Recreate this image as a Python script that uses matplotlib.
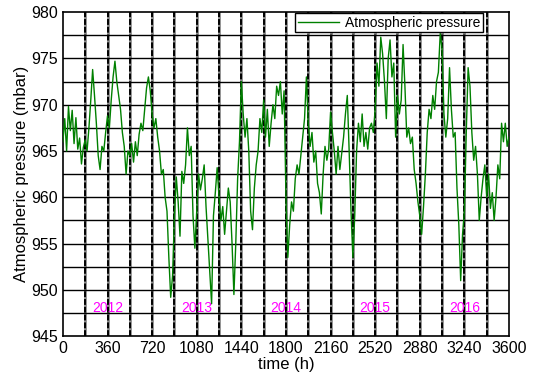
import numpy as np
import matplotlib.pyplot as plt
from matplotlib.ticker import MultipleLocator

plt.rcParams['font.family'] = ['Liberation Sans', 'DejaVu Sans']

# === Данные (шаг 15 ч) ===
time_h = np.arange(0, 3601, 15)
pressure = [
    966.0, 968.5, 965.0, 969.8, 967.2, 969.4, 965.8, 968.6, 965.2, 966.4, 963.6, 965.4,
    966.2, 965.0, 967.5, 970.5, 973.8, 971.0, 968.0, 964.5, 963.0, 965.5, 965.0, 967.0,
    968.8, 967.5, 970.5, 973.0, 974.7, 972.5, 971.0, 969.5, 967.0, 965.5, 962.5, 965.0,
    964.5, 965.8, 963.8, 966.0, 964.5, 966.8, 968.0, 967.2, 969.5, 971.8, 973.0, 971.5,
    969.0, 967.5, 968.5, 966.5, 965.0, 962.5, 963.0, 960.0, 958.5, 953.5, 949.2, 951.5,
    958.0, 962.2, 959.5, 955.8, 962.8, 961.5, 963.5, 967.5, 964.5, 965.5, 958.0, 954.5,
    958.5, 962.5, 960.8, 962.0, 963.5, 959.0, 955.5, 952.0, 948.5, 958.0, 960.5, 963.2,
    960.0, 957.5, 959.0, 956.0, 958.5, 961.0, 959.5, 955.0, 949.5, 955.0, 962.0, 966.0,
    972.5, 969.0, 966.5, 968.5, 965.0, 958.5, 956.5, 961.0, 963.5, 965.0, 968.5, 967.0,
    970.5, 966.5, 969.5, 965.5, 968.0, 970.0, 968.5, 972.0, 971.0, 972.5, 969.0, 971.5,
    960.0, 953.5, 957.0, 959.5, 958.5, 962.0, 963.5, 962.5, 964.5, 966.5, 968.5, 973.0,
    968.0, 965.5, 967.0, 963.8, 965.0, 961.5, 960.5, 958.2, 962.5, 965.5, 964.0, 965.2,
    969.2, 967.0, 965.0, 962.5, 965.5, 963.0, 964.8, 966.5, 969.0, 971.0, 965.0, 958.5,
    953.5, 958.0, 965.0, 968.0, 966.0, 969.0, 965.5, 967.0, 965.2, 967.5, 968.0, 967.0,
    969.5, 974.5, 972.0, 977.3, 975.5, 972.5, 968.5, 975.0, 977.0, 973.0, 974.5, 966.5,
    971.0, 969.0, 970.5, 976.5, 972.0, 966.5, 967.5, 965.8, 966.5, 963.0, 961.5, 959.5,
    958.0, 956.0, 959.0, 962.5, 967.0, 969.5, 968.5, 971.0, 969.5, 972.5, 973.5, 977.7,
    976.0, 969.0, 966.5, 968.5, 974.0, 969.5, 966.5, 967.0, 961.0, 957.0, 951.0, 956.0,
    958.5, 967.0, 974.0, 972.0, 967.0, 964.0, 965.5, 962.5, 957.5, 960.0, 962.0, 963.5,
    960.0, 962.5, 958.8, 960.5, 957.5, 960.0, 963.5, 962.0, 968.0, 966.0, 968.0, 965.5,
    966.5,
]

years = ['2012', '2013', '2014', '2015', '2016']
year_pos = [360, 1080, 1800, 2520, 3240]

fig = plt.figure(figsize=(5.33, 3.79), dpi=100)
ax = fig.add_axes([0.118, 0.113, 0.837, 0.855])

# сетка: вертикальные через 180 ч, горизонтальные через 2.5 мбар
for x in np.arange(180, 3600, 180):
    ax.axvline(x, color='#8a8a8a', lw=2.0, zorder=1)
    ax.axvline(x, color='black', lw=1.4, ls=(0, (3, 1)), zorder=1.1)
for y in np.arange(947.5, 980, 2.5):
    ax.axhline(y, color='black', lw=1.0, zorder=1.2)

ax.plot(time_h, pressure, color='#008000', lw=1.0, label='Atmospheric pressure', zorder=3)

for yr, xp in zip(years, year_pos):
    ax.text(xp, 948.0, yr, color='magenta', fontsize=10, ha='center', va='center', zorder=4)

ax.set_xlim(0, 3600)
ax.set_ylim(945, 980)
ax.xaxis.set_major_locator(MultipleLocator(360))
ax.yaxis.set_major_locator(MultipleLocator(5))
ax.tick_params(length=0, labelsize=11.5)
for sp in ax.spines.values():
    sp.set_linewidth(1.2)

ax.set_xlabel('time (h)', fontsize=12, labelpad=1)
ax.set_ylabel('Atmospheric pressure (mbar)', fontsize=12, labelpad=2)

leg = ax.legend(loc='upper right', bbox_to_anchor=(0.942, 0.998), fontsize=10,
                fancybox=False, framealpha=1, edgecolor='black', borderpad=0.2,
                handlelength=3.0, handletextpad=0.4, borderaxespad=0)
leg.get_frame().set_linewidth(1.0)
leg.set_zorder(5)

fig.savefig('out.png', dpi=100)
